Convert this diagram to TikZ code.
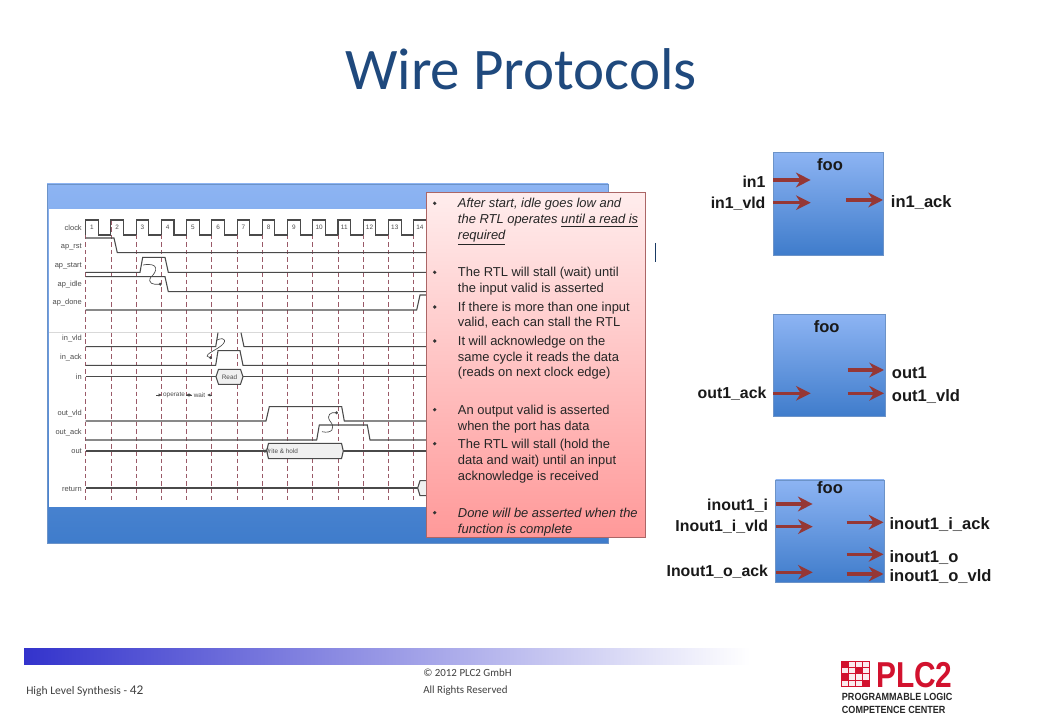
\documentclass[tikz,border=0pt]{standalone}
\usepackage{fontspec}
\setmainfont{Liberation Sans}
\newfontfamily\titlefont{Carlito}
\usetikzlibrary{arrows.meta}
\definecolor{titleblue}{HTML}{1F497D}
\definecolor{paneltop}{HTML}{8DB4F3}
\definecolor{panelbot}{HTML}{3F7CCB}
\definecolor{panelline}{HTML}{6C93C8}
\definecolor{sigred}{HTML}{953735}
\definecolor{dashred}{HTML}{9A5A68}
\definecolor{wavegrey}{HTML}{4A4A4A}
\definecolor{logored}{HTML}{D2122E}
\definecolor{barblue}{HTML}{3333CC}
\tikzset{
panel/.style = {top color=paneltop, bottom color=panelbot, draw=panelline, line width=0.6pt},
wave/.style = {color=wavegrey, line width=0.8pt},
tick/.style = {color=dashred, line width=0.6pt, dash pattern=on 3.4pt off 2.2pt},
wavelabel/.style = {anchor=east, text=black!70, font=\fontsize{5.6pt}{6pt}\selectfont},
wavetext/.style = {text=black!70, font=\fontsize{4.8pt}{6pt}\selectfont},
note/.style = {anchor=base west, text=black!85, font=\fontsize{9.7pt}{12pt}\selectfont},
port/.style = {text=black!90, font=\fontsize{12.4pt}{14pt}\bfseries\selectfont},
portleft/.style = {port, anchor=east, inner sep=0pt, font=\fontsize{11.9pt}{14pt}\bfseries\selectfont},
sig/.style = {-{Stealth[length=11pt,width=11pt,inset=3.5pt]}, color=sigred, line width=2.5pt},
small tip/.style = {-{Latex[length=2.6pt,width=2.6pt]}, color=wavegrey, line width=0.45pt},
causal/.style = {color=wavegrey, line width=0.5pt, -{Circle[length=2.2pt]}},
footer/.style = {anchor=base west, text=black!75, font=\titlefont\fontsize{8.2pt}{9pt}\selectfont}
}
\begin{document}
\begin{tikzpicture}[x=0.75pt, y=-0.75pt]
	\def \tstep{25.23}
	\def \tzero{85.7}
	\useasboundingbox (0,0) rectangle (1040,720);
	\fill[white] (0,0) rectangle (1040,720);

	% Title
	\node[anchor=base, text=titleblue, font=\titlefont\fontsize{44.2pt}{50pt}\selectfont] (title) at (521,90) {Wire Protocols};

	% Left panel
	\shade[panel] (47,184) rectangle (608,543);
	\fill[white] (48.5,209) rectangle (608,507);

	% Cycle ticks
	\foreach \i in {0,...,13}
		\draw[tick] (\tzero+\i*\tstep,220) -- (\tzero+\i*\tstep,500);

	% Clock
	\foreach \i [evaluate=\i as \n using int(\i+1)] in {0,...,13} {
		\draw[wave] (\tzero+\i*\tstep,235) -- (\tzero+\i*\tstep,220) -- (\tzero+\i*\tstep+12.6,220) -- (\tzero+\i*\tstep+12.6,235) -- (\tzero+\i*\tstep+\tstep,235);
		\node[wavetext] (cyc\n) at (\tzero+\i*\tstep+6.3,227.5) {\n};
	}

	% Control signals
	\draw[wave] (85.7,238) -- (114,238) -- (117.3,252.7) -- (426,252.7); % ap_rst
	\draw[wave] (85.7,272.3) -- (140,272.3) -- (142.7,257.3) -- (165,257.3) -- (168.3,272.3) -- (426,272.3); % ap_start
	\draw[wave] (85.7,276.7) -- (165,276.7) -- (168.3,291.7) -- (426,291.7); % ap_idle
	\draw[wave] (85.7,310) -- (416.7,310) -- (420,295) -- (426,295); % ap_done
	\draw[color=black!15, line width=0.5pt] (49,332.7) -- (426,332.7);

	% Read
	\draw[wave] (85.7,346.7) -- (215.7,346.7) -- (218,332.7);
	\draw[wave] (241,332.7) -- (244,346.7) -- (426,346.7); % in_vld
	\draw[wave] (85.7,365.3) -- (215.7,365.3) -- (218,350.7) -- (240,350.7) -- (243,365.3) -- (426,365.3); % in_ack
	\draw[wave] (85.7,376.7) -- (216,376.7);
	\draw[wave] (243,376.7) -- (426,376.7); % in
	\draw[wave, fill=black!6] (216,376.7) -- (218.5,369.3) -- (240.5,369.3) -- (243,376.7) -- (240.5,384.3) -- (218.5,384.3) -- cycle;
	\node[wavetext] (read) at (229.5,377) {Read};

	% Operate and wait
	\node[wavetext] (operate) at (174,395) {operate};
	\node[wavetext] (wait) at (199.5,395) {wait};
	\draw[small tip] (156,395) -- (162,395);
	\draw[small tip] (192,395) -- (186,395);
	\draw[small tip] (186,395) -- (192,395);
	\draw[small tip] (212,395) -- (207,395);

	% Write
	\draw[wave] (85.7,421) -- (266,421) -- (269.3,406.7) -- (341.7,406.7) -- (344.3,421) -- (426,421); % out_vld
	\draw[wave] (85.7,440) -- (316.7,440) -- (319.3,425) -- (367.3,425) -- (370,440) -- (426,440); % out_ack
	\draw[wave] (85.7,451) -- (266.7,451);
	\draw[wave] (343.3,451) -- (426,451); % out
	\draw[wave, fill=black!6] (266.7,451) -- (268.5,443.3) -- (341.5,443.3) -- (343.3,451) -- (341.5,458.7) -- (268.5,458.7) -- cycle;
	\node[wavetext, anchor=west, inner sep=0pt] (hold) at (263,451) {Write \& hold};

	% Return
	\draw[wave] (85.7,488) -- (417.7,488);
	\draw[wave, fill=black!6] (426,480.7) -- (420,480.7) -- (417.7,488) -- (420,495.7) -- (426,495.7);

	% Causal curves
	\draw[causal] (143,265) .. controls (160,262) and (157,272) .. (151,277) .. controls (147,283) and (153,285) .. (161.7,284);
	\draw[causal] (217,340) .. controls (226,336) and (228,342) .. (218,348) .. controls (208,354) and (204,356) .. (212,358);
	\draw[causal] (322,431.7) .. controls (332,434) and (336,428) .. (330,421) .. controls (326,415) and (331,412) .. (338,413);

	% Signal names
	\foreach \y/\sname in {227.7/clock, 246.7/ap\_rst, 266/ap\_start, 284.7/ap\_idle, 303/ap\_done, 339/in\_vld, 358/in\_ack, 376.7/in, 414/out\_vld, 433/out\_ack, 451/out, 488.7/return}
		\node[wavelabel, inner sep=0pt] at (82,\y) {\sname};

	% Notes box
	\shade[top color=red!7, bottom color=red!40, draw=red!45!black!60, line width=0.6pt] (426,192.3) rectangle (645,537.5);
	\foreach \y in {203.3,272.3,307,341,409.7,443.7,512.7}
		\fill[black!80] (434.7,\y) circle (1.8);
	\foreach \y/\txt in {
		208/{\itshape After start, idle goes low and},
		224/{\itshape the RTL operates \underline{until a read is}},
		240/{\itshape \underline{required}},
		277/{The RTL will stall (wait) until},
		293/{the input valid is asserted},
		311.5/{If there is more than one input},
		327/{valid, each can stall the RTL},
		345.5/{It will acknowledge on the},
		361.5/{same cycle it reads the data},
		377/{(reads on next clock edge)},
		414.5/{An output valid is asserted},
		430.5/{when the port has data},
		448.5/{The RTL will stall (hold the},
		464.5/{data and wait) until an input},
		480.5/{acknowledge  is received},
		517.5/{\itshape Done will be asserted when the},
		533.5/{\itshape function is complete}}
		\node[note, inner sep=0pt] at (457.7,\y) {\txt};

	% Cursor
	\draw[color=titleblue!80!black, line width=0.8pt] (655.7,243) -- (655.7,262);

	% Block diagrams
	\shade[panel] (773.3,152.3) rectangle (883.3,255);
	\shade[panel] (773.3,314.3) rectangle (885,416.7);
	\shade[panel] (775.7,480) rectangle (884,582.7);
	\node[port] (foo1) at (830,164.3) {foo};
	\node[port] (foo2) at (826.7,326.7) {foo};
	\node[port] (foo3) at (830,487.3) {foo};

	% Ports entering from the left
	\foreach \p/\xs/\xe/\ys/\xl/\yl/\lname in {
		ina/773.3/810.7/180/765.7/181.7/in1,
		inb/773.3/810.7/202.7/765.7/203.3/in1\_vld,
		outc/773.3/810.7/393.3/766.7/394/out1\_ack,
		ioa/776/812.7/504/768.3/505.7/inout1\_i,
		iob/776/812.7/526.7/768.3/526.7/Inout1\_i\_vld,
		ioc/776/812.7/572.3/768.3/571.7/Inout1\_o\_ack} {
		\node[portleft] (lab\p) at (\xl,\yl) {\lname};
		\coordinate (s\p) at (\xs,\ys);
		\coordinate (e\p) at (\xe,\ys);
		\draw[sig] (s\p) -- (e\p);
	}

	% Ports leaving to the right
	\foreach \p/\xs/\xe/\ys/\xl/\yl/\lname in {
		inc/846/883/200/890.7/203/in1\_ack,
		outa/847.7/884/370/891.7/372.7/out1,
		outb/847.7/884/393.3/891.7/396.7/out1\_vld,
		iod/846.7/883.5/522.3/889.3/525/inout1\_i\_ack,
		ioe/846.7/883.5/554.3/889.3/557.7/inout1\_o,
		iof/846.7/883.5/574/889.3/576.7/inout1\_o\_vld} {
		\node[port, anchor=west, inner sep=0pt] (lab\p) at (\xl,\yl) {\lname};
		\coordinate (s\p) at (\xs,\ys);
		\coordinate (e\p) at (\xe,\ys);
		\draw[sig] (s\p) -- (e\p);
	}

	% Footer
	\shade[left color=barblue, right color=white] (24,648) rectangle (750,664);
	\node[footer, inner sep=0pt, font=\titlefont\fontsize{8.7pt}{9pt}\selectfont] (synth) at (26,694) {High Level Synthesis - {\fontsize{10pt}{9pt}\selectfont 42}};
	\node[footer, inner sep=0pt] (copy) at (423,676.5) {© 2012 PLC2 GmbH};
	\node[footer, inner sep=0pt] (rights) at (423,693) {All Rights Reserved};

	% Logo
	\foreach \i in {0,...,3}
		\foreach \j in {0,...,3}
			\draw[fill=logored!8, draw=logored, line width=0.7pt] (841.7+\i*6.9,661+\j*6.4) rectangle +(6.9,6.4);
	\foreach \i/\j in {0/0,2/1,0/2,3/3}
		\fill[logored] (841.7+\i*6.9,661+\j*6.4) rectangle +(6.9,6.4);
	\node[anchor=base west, inner sep=0pt, text=logored, xscale=0.83, transform shape, font=\fontsize{27pt}{30pt}\bfseries\selectfont] (plc) at (876,687) {PLC2};
	\node[anchor=base west, inner sep=0pt, text=black!85, xscale=0.87, transform shape, font=\fontsize{7.8pt}{9pt}\bfseries\selectfont] (prog) at (841.7,700.5) {PROGRAMMABLE LOGIC};
	\node[anchor=base west, inner sep=0pt, text=black!85, xscale=0.87, transform shape, font=\fontsize{7.8pt}{9pt}\bfseries\selectfont] (comp) at (841.7,713) {COMPETENCE CENTER};
\end{tikzpicture}
\end{document}
